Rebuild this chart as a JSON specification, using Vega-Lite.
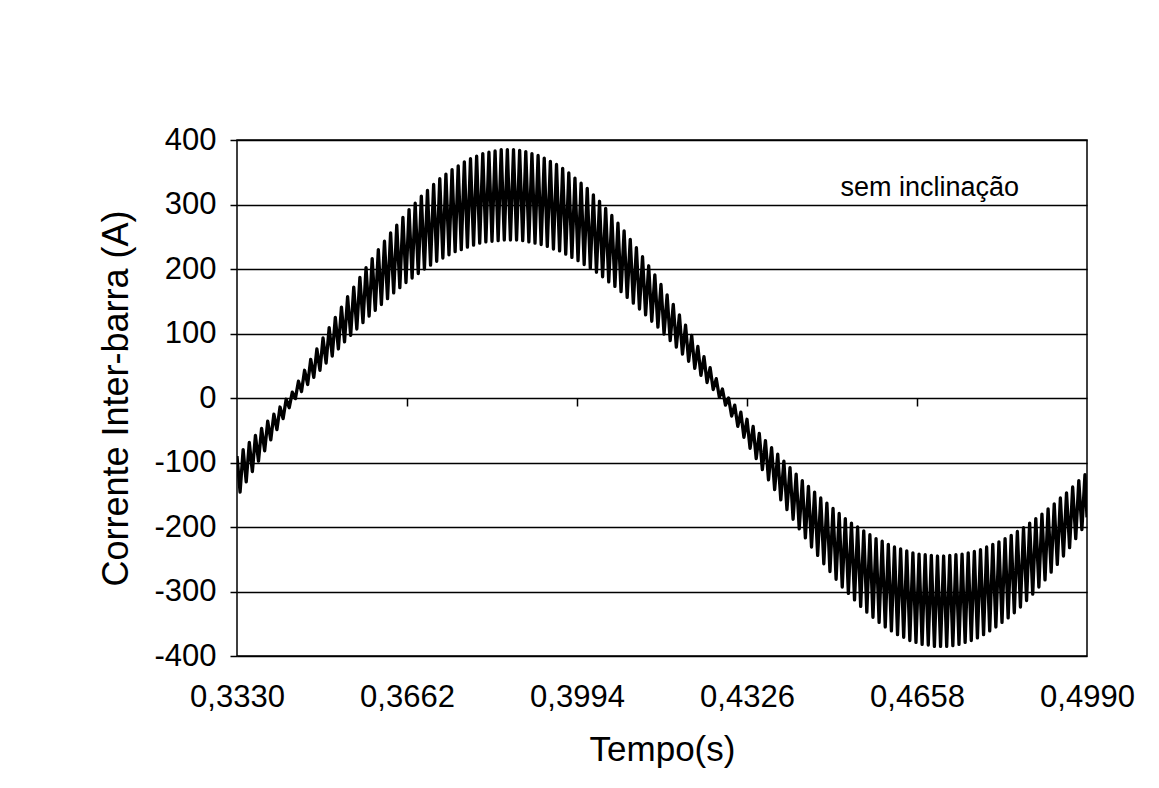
{
  "$schema": "https://vega.github.io/schema/vega-lite/v6.json",
  "width": 850,
  "height": 516,
  "autosize": {"type": "none"},
  "padding": {"left": 237, "top": 140, "right": 72, "bottom": 132},
  "background": "white",
  "config": {
    "font": "Liberation Sans",
    "view": {"stroke": "black", "strokeWidth": 1.5},
    "axis": {"labelColor": "black", "titleColor": "black", "labelFont": "Liberation Sans", "titleFont": "Liberation Sans", "titleFontWeight": "normal"}
  },
  "datasets": {
    "corrente": [
      {"t":0.3330,"i":-90},{"t":0.3336,"i":-146},{"t":0.3342,"i":-80},{"t":0.3348,"i":-130},{"t":0.3354,"i":-69},{"t":0.3360,"i":-114},{"t":0.3366,"i":-58},{"t":0.3372,"i":-98},{"t":0.3378,"i":-47},{"t":0.3384,"i":-82},
      {"t":0.3390,"i":-36},{"t":0.3396,"i":-65},{"t":0.3402,"i":-25},{"t":0.3408,"i":-49},{"t":0.3414,"i":-14},{"t":0.3420,"i":-32},{"t":0.3426,"i":-2},{"t":0.3432,"i":-15},{"t":0.3438,"i":9},{"t":0.3444,"i":-1},
      {"t":0.3450,"i":26},{"t":0.3456,"i":10},{"t":0.3462,"i":43},{"t":0.3468,"i":21},{"t":0.3474,"i":60},{"t":0.3480,"i":32},{"t":0.3486,"i":76},{"t":0.3492,"i":43},{"t":0.3498,"i":93},{"t":0.3504,"i":54},
      {"t":0.3510,"i":109},{"t":0.3516,"i":65},{"t":0.3522,"i":125},{"t":0.3528,"i":76},{"t":0.3534,"i":141},{"t":0.3540,"i":87},{"t":0.3546,"i":157},{"t":0.3552,"i":97},{"t":0.3558,"i":172},{"t":0.3564,"i":107},
      {"t":0.3570,"i":187},{"t":0.3576,"i":117},{"t":0.3582,"i":202},{"t":0.3588,"i":127},{"t":0.3594,"i":216},{"t":0.3600,"i":136},{"t":0.3606,"i":230},{"t":0.3612,"i":145},{"t":0.3618,"i":243},{"t":0.3624,"i":154},
      {"t":0.3630,"i":256},{"t":0.3636,"i":163},{"t":0.3642,"i":268},{"t":0.3648,"i":171},{"t":0.3654,"i":280},{"t":0.3660,"i":179},{"t":0.3666,"i":292},{"t":0.3672,"i":186},{"t":0.3678,"i":302},{"t":0.3684,"i":193},
      {"t":0.3690,"i":313},{"t":0.3696,"i":200},{"t":0.3702,"i":322},{"t":0.3708,"i":206},{"t":0.3714,"i":331},{"t":0.3720,"i":212},{"t":0.3726,"i":340},{"t":0.3732,"i":217},{"t":0.3738,"i":347},{"t":0.3744,"i":222},
      {"t":0.3750,"i":354},{"t":0.3756,"i":227},{"t":0.3762,"i":360},{"t":0.3768,"i":230},{"t":0.3774,"i":366},{"t":0.3780,"i":234},{"t":0.3786,"i":371},{"t":0.3792,"i":237},{"t":0.3798,"i":375},{"t":0.3804,"i":240},
      {"t":0.3810,"i":379},{"t":0.3816,"i":242},{"t":0.3822,"i":381},{"t":0.3828,"i":243},{"t":0.3834,"i":383},{"t":0.3840,"i":244},{"t":0.3846,"i":385},{"t":0.3852,"i":245},{"t":0.3858,"i":385},{"t":0.3864,"i":245},
      {"t":0.3870,"i":385},{"t":0.3876,"i":245},{"t":0.3882,"i":384},{"t":0.3888,"i":244},{"t":0.3894,"i":382},{"t":0.3900,"i":242},{"t":0.3906,"i":379},{"t":0.3912,"i":240},{"t":0.3918,"i":376},{"t":0.3924,"i":238},
      {"t":0.3930,"i":372},{"t":0.3936,"i":235},{"t":0.3942,"i":367},{"t":0.3948,"i":231},{"t":0.3954,"i":362},{"t":0.3960,"i":228},{"t":0.3966,"i":356},{"t":0.3972,"i":223},{"t":0.3978,"i":349},{"t":0.3984,"i":218},
      {"t":0.3990,"i":341},{"t":0.3996,"i":213},{"t":0.4002,"i":333},{"t":0.4008,"i":207},{"t":0.4014,"i":325},{"t":0.4020,"i":201},{"t":0.4026,"i":315},{"t":0.4032,"i":195},{"t":0.4038,"i":305},{"t":0.4044,"i":188},
      {"t":0.4050,"i":294},{"t":0.4056,"i":180},{"t":0.4062,"i":283},{"t":0.4068,"i":173},{"t":0.4074,"i":271},{"t":0.4080,"i":165},{"t":0.4086,"i":259},{"t":0.4092,"i":156},{"t":0.4098,"i":246},{"t":0.4104,"i":147},
      {"t":0.4110,"i":233},{"t":0.4116,"i":138},{"t":0.4122,"i":219},{"t":0.4128,"i":129},{"t":0.4134,"i":205},{"t":0.4140,"i":119},{"t":0.4146,"i":191},{"t":0.4152,"i":110},{"t":0.4158,"i":176},{"t":0.4164,"i":99},
      {"t":0.4170,"i":160},{"t":0.4176,"i":89},{"t":0.4182,"i":145},{"t":0.4188,"i":79},{"t":0.4194,"i":129},{"t":0.4200,"i":68},{"t":0.4206,"i":113},{"t":0.4212,"i":57},{"t":0.4218,"i":97},{"t":0.4224,"i":46},
      {"t":0.4230,"i":80},{"t":0.4236,"i":35},{"t":0.4242,"i":64},{"t":0.4248,"i":24},{"t":0.4254,"i":47},{"t":0.4260,"i":13},{"t":0.4266,"i":30},{"t":0.4272,"i":1},{"t":0.4278,"i":14},{"t":0.4284,"i":-11},
      {"t":0.4290,"i":0},{"t":0.4296,"i":-28},{"t":0.4302,"i":-11},{"t":0.4308,"i":-44},{"t":0.4314,"i":-22},{"t":0.4320,"i":-61},{"t":0.4326,"i":-33},{"t":0.4332,"i":-78},{"t":0.4338,"i":-44},{"t":0.4344,"i":-94},
      {"t":0.4350,"i":-55},{"t":0.4356,"i":-111},{"t":0.4362,"i":-66},{"t":0.4368,"i":-127},{"t":0.4374,"i":-77},{"t":0.4380,"i":-142},{"t":0.4386,"i":-87},{"t":0.4392,"i":-158},{"t":0.4398,"i":-98},{"t":0.4404,"i":-173},
      {"t":0.4410,"i":-108},{"t":0.4416,"i":-188},{"t":0.4422,"i":-118},{"t":0.4428,"i":-203},{"t":0.4434,"i":-128},{"t":0.4440,"i":-217},{"t":0.4446,"i":-137},{"t":0.4452,"i":-231},{"t":0.4458,"i":-146},{"t":0.4464,"i":-244},
      {"t":0.4470,"i":-155},{"t":0.4476,"i":-257},{"t":0.4482,"i":-163},{"t":0.4488,"i":-269},{"t":0.4494,"i":-171},{"t":0.4500,"i":-281},{"t":0.4506,"i":-179},{"t":0.4512,"i":-293},{"t":0.4518,"i":-187},{"t":0.4524,"i":-303},
      {"t":0.4530,"i":-194},{"t":0.4536,"i":-313},{"t":0.4542,"i":-200},{"t":0.4548,"i":-323},{"t":0.4554,"i":-206},{"t":0.4560,"i":-332},{"t":0.4566,"i":-212},{"t":0.4572,"i":-340},{"t":0.4578,"i":-218},{"t":0.4584,"i":-348},
      {"t":0.4590,"i":-222},{"t":0.4596,"i":-355},{"t":0.4602,"i":-227},{"t":0.4608,"i":-361},{"t":0.4614,"i":-231},{"t":0.4620,"i":-367},{"t":0.4626,"i":-234},{"t":0.4632,"i":-371},{"t":0.4638,"i":-237},{"t":0.4644,"i":-376},
      {"t":0.4650,"i":-240},{"t":0.4656,"i":-379},{"t":0.4662,"i":-242},{"t":0.4668,"i":-382},{"t":0.4674,"i":-243},{"t":0.4680,"i":-383},{"t":0.4686,"i":-244},{"t":0.4692,"i":-385},{"t":0.4698,"i":-245},{"t":0.4704,"i":-385},
      {"t":0.4710,"i":-245},{"t":0.4716,"i":-385},{"t":0.4722,"i":-244},{"t":0.4728,"i":-384},{"t":0.4734,"i":-243},{"t":0.4740,"i":-382},{"t":0.4746,"i":-242},{"t":0.4752,"i":-379},{"t":0.4758,"i":-240},{"t":0.4764,"i":-376},
      {"t":0.4770,"i":-238},{"t":0.4776,"i":-372},{"t":0.4782,"i":-235},{"t":0.4788,"i":-367},{"t":0.4794,"i":-231},{"t":0.4800,"i":-361},{"t":0.4806,"i":-227},{"t":0.4812,"i":-355},{"t":0.4818,"i":-223},{"t":0.4824,"i":-348},
      {"t":0.4830,"i":-218},{"t":0.4836,"i":-341},{"t":0.4842,"i":-213},{"t":0.4848,"i":-333},{"t":0.4854,"i":-207},{"t":0.4860,"i":-324},{"t":0.4866,"i":-201},{"t":0.4872,"i":-314},{"t":0.4878,"i":-194},{"t":0.4884,"i":-304},
      {"t":0.4890,"i":-187},{"t":0.4896,"i":-293},{"t":0.4902,"i":-180},{"t":0.4908,"i":-282},{"t":0.4914,"i":-172},{"t":0.4920,"i":-270},{"t":0.4926,"i":-164},{"t":0.4932,"i":-258},{"t":0.4938,"i":-155},{"t":0.4944,"i":-245},
      {"t":0.4950,"i":-147},{"t":0.4956,"i":-232},{"t":0.4962,"i":-138},{"t":0.4968,"i":-218},{"t":0.4974,"i":-128},{"t":0.4980,"i":-204},{"t":0.4986,"i":-119},{"t":0.4990,"i":-185}
    ],
    "nota": [{"t": 0.4683, "i": 326, "label": "sem inclinação"}]
  },
  "layer": [
    {
      "data": {"name": "corrente"},
      "mark": {"type": "line", "color": "black", "strokeWidth": 3.3, "strokeJoin": "round", "clip": true},
      "encoding": {
        "x": {
          "field": "t", "type": "quantitative",
          "scale": {"domain": [0.333, 0.499], "nice": false, "zero": false},
          "axis": {
            "title": "Tempo(s)", "titleFontSize": 35, "titlePadding": 20,
            "values": [0.333, 0.3662, 0.3994, 0.4326, 0.4658, 0.499],
            "labelExpr": "replace(format(datum.value, '.4f'), '.', ',')",
            "labelFontSize": 31, "labelPadding": 26, "ticks": false, "domain": false, "grid": false,
            "labelFlush": false, "labelOverlap": false
          }
        },
        "y": {
          "field": "i", "type": "quantitative",
          "scale": {"domain": [-400, 400], "nice": false},
          "axis": {
            "title": "Corrente Inter-barra (A)", "titleFontSize": 36, "titlePadding": 18,
            "values": [-400, -300, -200, -100, 0, 100, 200, 300, 400],
            "labelExpr": "'' + datum.value",
            "labelFontSize": 31, "labelPadding": 14, "tickSize": 7, "tickColor": "black", "tickWidth": 1.5,
            "domain": false, "grid": true, "gridColor": "black", "gridOpacity": 1, "gridWidth": 1.5,
            "labelFlush": false, "labelOverlap": false
          }
        }
      }
    },
    {
      "data": {"name": "nota"},
      "mark": {"type": "text", "fontSize": 27, "color": "black", "align": "center", "baseline": "middle", "font": "Liberation Sans"},
      "encoding": {
        "x": {
          "field": "t", "type": "quantitative",
          "axis": {
            "orient": "bottom", "offset": -258, "title": null, "labels": false, "domain": false, "grid": false,
            "values": [0.3662, 0.3994, 0.4326, 0.4658],
            "ticks": true, "tickSize": 8, "tickColor": "black", "tickWidth": 1.5
          }
        },
        "y": {"field": "i", "type": "quantitative"},
        "text": {"field": "label"}
      }
    }
  ],
  "resolve": {"axis": {"x": "independent"}}
}
